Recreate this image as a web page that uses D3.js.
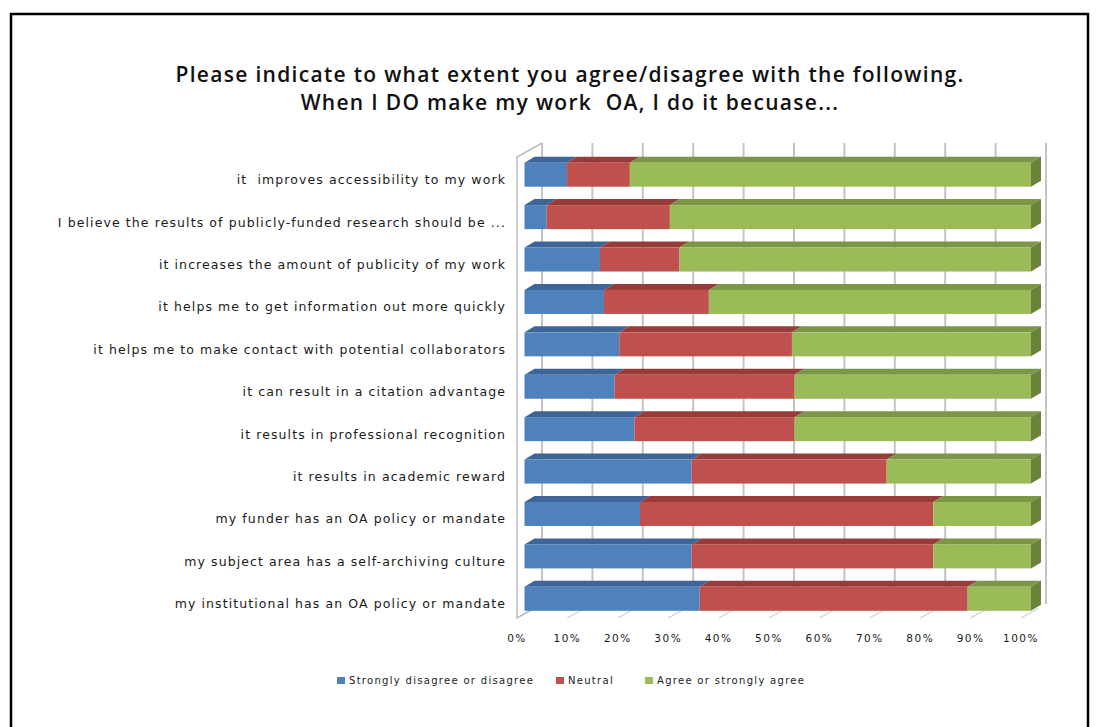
<!DOCTYPE html>
<html>
<head>
<meta charset="utf-8">
<script src="https://cdn.jsdelivr.net/npm/d3@7"></script>
<style>
  body { margin: 0; background: #fff; }
  svg { display: block; }
  svg text { white-space: pre; }
</style>
</head>
<body>
<div id="chart"></div>
<script>
(function(){
  'use strict';

  //Chart data (percent of respondents)
  const titleLines = [
    'Please indicate to what extent you agree/disagree with the following.',
    'When I DO make my work  OA, I do it becuase...'
  ];
  const categories = [
    'it  improves accessibility to my work',
    'I believe the results of publicly-funded research should be ...',
    'it increases the amount of publicity of my work',
    'it helps me to get information out more quickly',
    'it helps me to make contact with potential collaborators',
    'it can result in a citation advantage',
    'it results in professional recognition',
    'it results in academic reward',
    'my funder has an OA policy or mandate',
    'my subject area has a self-archiving culture',
    'my institutional has an OA policy or mandate'
  ];
  const seriesNames = ['Strongly disagree or disagree', 'Neutral', 'Agree or strongly agree'];
  const disagree = [8.4, 4.4, 14.9, 15.7, 18.7, 17.8, 21.7, 33.0, 22.8, 33.0, 34.6];
  const neutral  = [12.4, 24.3, 15.7, 20.7, 34.1, 35.5, 31.6, 38.5, 57.9, 47.7, 52.9];
  const agree    = [79.2, 71.3, 69.4, 63.6, 47.2, 46.7, 46.7, 28.5, 19.3, 19.3, 12.5];
  const tickValues = [0, 10, 20, 30, 40, 50, 60, 70, 80, 90, 100];
  const tickLabels = ['0%', '10%', '20%', '30%', '40%', '50%', '60%', '70%', '80%', '90%', '100%'];

  //Colours: front face, top face, side face
  const colors = ['#4f81bd', '#c0504d', '#9bbb59'];
  const topColors = ['#3d6597', '#983c3a', '#7b9645'];
  const sideColors = ['#34547e', '#7e3230', '#6a833a'];

  //Dimensions
  let width = 1099;
  let height = 727;
  let barH = 24;
  let depth = {x: 10, y: 6}; //bar depth offset
  let wall = {x: 25, y: 14}; //wall depth offset
  let floorY = 618;
  let wallTop = 157;

  let svg = d3.select('#chart').append('svg')
    .attr('width', width)
    .attr('height', height);

  //Outer frame
  svg.append('rect')
    .attr('x', 11).attr('y', 14)
    .attr('width', 1077).attr('height', 740)
    .attr('fill', 'none')
    .attr('stroke', '#000')
    .attr('stroke-width', 2.5);

  //Scales
  let x = d3.scaleLinear().domain([0, 100]).range([524.5, 1031]); //bar front
  let xFront = d3.scaleLinear().domain([0, 100]).range([517, 1021]); //floor front edge
  let xBack = d3.scaleLinear().domain([0, 100]).range([542, 1046]); //back wall
  let y = d3.scaleBand().domain(categories).range([153.5, 620]).padding(0);

  //Title
  svg.append('g').selectAll('text')
    .data(titleLines)
    .enter()
    .append('text')
      .attr('x', 570)
      .attr('y', function(d, i) { return 82 + i * 28; })
      .attr('text-anchor', 'middle')
      .attr('font-family', 'Open Sans, sans-serif')
      .attr('font-weight', 600)
      .attr('font-size', '21px')
      .attr('letter-spacing', '1.3px')
      .attr('fill', '#111')
      .text(function(d) { return d; });

  //Back wall gridlines
  svg.append('g').selectAll('line')
    .data(tickValues)
    .enter()
    .append('line')
      .attr('x1', function(d) { return xBack(d); })
      .attr('x2', function(d) { return xBack(d); })
      .attr('y1', wallTop - wall.y)
      .attr('y2', floorY - wall.y)
      .attr('stroke', '#c4c4c4')
      .attr('stroke-width', 2);

  //Floor tick marks (running back from the front edge)
  svg.append('g').selectAll('line')
    .data(tickValues)
    .enter()
    .append('line')
      .attr('x1', function(d) { return xFront(d); })
      .attr('y1', floorY)
      .attr('x2', function(d) { return xFront(d) + wall.x * 0.7; })
      .attr('y2', floorY - wall.y * 0.7)
      .attr('stroke', '#d0d0d0')
      .attr('stroke-width', 1.2);

  //Left wall edge
  svg.append('path')
    .attr('d', 'M' + (xFront(0) + wall.x) + ',' + (wallTop - wall.y)
      + 'L' + xFront(0) + ',' + wallTop
      + 'L' + xFront(0) + ',' + floorY
      + 'L' + (xFront(0) + wall.x) + ',' + (floorY - wall.y))
    .attr('fill', 'none')
    .attr('stroke', '#bdbdbd')
    .attr('stroke-width', 1.5);

  //Stack the series
  let rows = categories.map(function(c, i) {
    return {name: c, s0: disagree[i], s1: neutral[i], s2: agree[i]};
  });
  let stacked = d3.stack().keys(['s0', 's1', 's2'])(rows);

  //Bar groups, one per series
  let barTop = function(d) { return y(d.data.name) + (y.step() - barH) / 2; };

  let series = svg.append('g').selectAll('g')
    .data(stacked)
    .enter()
    .append('g');

  //Top faces
  series.selectAll('.top')
    .data(function(s) { return s.map(function(d) { d.key = s.index; return d; }); })
    .enter()
    .append('path')
      .attr('class', 'top')
      .attr('fill', function(d) { return topColors[d.key]; })
      .attr('d', function(d) {
        let y0 = barTop(d);
        return 'M' + x(d[0]) + ',' + y0
          + 'L' + (x(d[0]) + depth.x) + ',' + (y0 - depth.y)
          + 'L' + (x(d[1]) + depth.x) + ',' + (y0 - depth.y)
          + 'L' + x(d[1]) + ',' + y0 + 'Z';
      });

  //Front faces
  series.selectAll('.front')
    .data(function(s) { return s; })
    .enter()
    .append('rect')
      .attr('class', 'front')
      .attr('x', function(d) { return x(d[0]); })
      .attr('y', barTop)
      .attr('width', function(d) { return x(d[1]) - x(d[0]); })
      .attr('height', barH)
      .attr('fill', function(d) { return colors[d.key]; });

  //Right side face of the last segment
  svg.append('g').selectAll('path')
    .data(stacked[stacked.length - 1])
    .enter()
    .append('path')
      .attr('fill', sideColors[2])
      .attr('d', function(d) {
        let y0 = barTop(d);
        let x1 = x(d[1]);
        return 'M' + x1 + ',' + y0
          + 'L' + (x1 + depth.x) + ',' + (y0 - depth.y)
          + 'L' + (x1 + depth.x) + ',' + (y0 + barH - depth.y)
          + 'L' + x1 + ',' + (y0 + barH) + 'Z';
      });

  //Category labels
  svg.append('g').selectAll('text')
    .data(categories)
    .enter()
    .append('text')
      .attr('x', 506)
      .attr('y', function(d) { return y(d) + y.step() / 2 + 6; })
      .attr('text-anchor', 'end')
      .attr('dominant-baseline', 'middle')
      .attr('font-family', 'DejaVu Sans, sans-serif')
      .attr('font-size', '12.5px')
      .attr('letter-spacing', '1.1px')
      .attr('fill', '#1a1a1a')
      .text(function(d) { return d; });

  //Tick labels
  svg.append('g').selectAll('text')
    .data(tickValues)
    .enter()
    .append('text')
      .attr('x', function(d) { return xFront(d); })
      .attr('y', 642)
      .attr('text-anchor', 'middle')
      .attr('font-family', 'DejaVu Sans, sans-serif')
      .attr('font-size', '10.5px')
      .attr('letter-spacing', '1.5px')
      .attr('fill', '#1a1a1a')
      .text(function(d, i) { return tickLabels[i]; });

  //Legend
  let legendX = [337, 556, 645];
  let legend = svg.append('g').selectAll('g')
    .data(seriesNames)
    .enter()
    .append('g')
      .attr('transform', function(d, i) { return 'translate(' + legendX[i] + ',677)'; });

  legend.append('rect')
    .attr('width', 8)
    .attr('height', 7)
    .attr('fill', function(d, i) { return colors[i]; });

  legend.append('text')
    .attr('x', 12)
    .attr('y', 4)
    .attr('dominant-baseline', 'middle')
    .attr('font-family', 'DejaVu Sans, sans-serif')
    .attr('font-size', '10px')
    .attr('letter-spacing', '1.3px')
    .attr('fill', '#1a1a1a')
    .text(function(d) { return d; });

})();
</script>
</body>
</html>
